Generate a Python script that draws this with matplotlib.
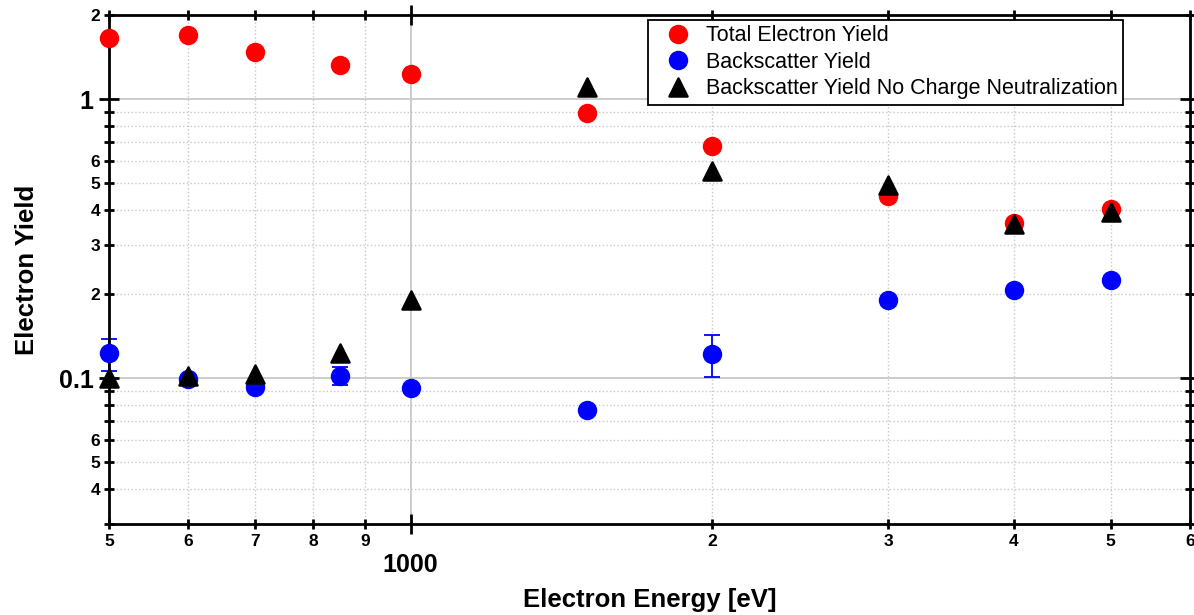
import matplotlib
matplotlib.use("Agg")
import matplotlib.pyplot as plt
from matplotlib.ticker import FixedLocator, FixedFormatter
from matplotlib.markers import MarkerStyle

plt.rcParams['font.family'] = ['Liberation Sans', 'DejaVu Sans']

energy = [500, 600, 700, 850, 1000, 1500, 2000, 3000, 4000, 5000]
total_yield = [1.66, 1.69, 1.47, 1.32, 1.23, 0.89, 0.68, 0.45, 0.36, 0.405]
bse_yield = [0.123, 0.0995, 0.093, 0.1017, 0.092, 0.077, 0.122, 0.19, 0.206, 0.224]
bse_err_lo = [0.017, 0.0, 0.0, 0.0073, 0.0, 0.0, 0.0214, 0.0, 0.0, 0.0]
bse_err_hi = [0.015, 0.0, 0.0, 0.0083, 0.0, 0.0, 0.021, 0.0, 0.0, 0.0]
bse_nocn = [0.1, 0.1017, 0.103, 0.123, 0.191, 1.10, 0.553, 0.493, 0.358, 0.395]

x_major = [1000]
x_major_labels = ['1000']
x_minor = [500, 600, 700, 800, 900, 2000, 3000, 4000, 5000, 6000]
x_minor_labels = ['5', '6', '7', '8', '9', '2', '3', '4', '5', '6']
y_major = [0.1, 1]
y_major_labels = ['0.1', '1']
y_minor = [0.03, 0.04, 0.05, 0.06, 0.07, 0.08, 0.09,
           0.2, 0.3, 0.4, 0.5, 0.6, 0.7, 0.8, 0.9, 2]
y_minor_labels = ['', '4', '5', '6', '', '', '',
                  '2', '3', '4', '5', '6', '', '', '', '2']

fig = plt.figure(figsize=(11.94, 6.15), dpi=100)
ax = fig.add_axes([0.0913, 0.148, 0.9053, 0.8276])
ax.set_xscale('log')
ax.set_yscale('log')
ax.set_xlim(500, 6000)
ax.set_ylim(0.03, 2)

h1, = ax.plot(energy, total_yield, 'o', color='#ff0000', markersize=14,
              markeredgewidth=0, label='Total Electron Yield', zorder=3,
              clip_on=False)
ax.errorbar(energy, bse_yield, yerr=[bse_err_lo, bse_err_hi], fmt='none',
            ecolor='#0000ff', elinewidth=1.3, capsize=6, capthick=1.3,
            zorder=2.5, clip_on=False)
h2, = ax.plot(energy, bse_yield, 'o', color='#0000ff', markersize=14,
              markeredgewidth=0, label='Backscatter Yield', zorder=3,
              clip_on=False)
tri = MarkerStyle('^', joinstyle='round')
h3, = ax.plot(energy, bse_nocn, linestyle='none', marker=tri, color='black',
              markersize=13.5, markeredgewidth=1.8, markeredgecolor='black',
              label='Backscatter Yield No Charge Neutralization', zorder=4,
              clip_on=False)

ax.xaxis.set_major_locator(FixedLocator(x_major))
ax.xaxis.set_major_formatter(FixedFormatter(x_major_labels))
ax.xaxis.set_minor_locator(FixedLocator(x_minor))
ax.xaxis.set_minor_formatter(FixedFormatter(x_minor_labels))
ax.yaxis.set_major_locator(FixedLocator(y_major))
ax.yaxis.set_major_formatter(FixedFormatter(y_major_labels))
ax.yaxis.set_minor_locator(FixedLocator(y_minor))
ax.yaxis.set_minor_formatter(FixedFormatter(y_minor_labels))

ax.tick_params(which='both', direction='inout', top=True, right=True,
               labeltop=False, labelright=False, width=2, color='black')
ax.tick_params(which='major', length=14, labelsize=18)
ax.tick_params(which='minor', length=7, labelsize=12.5)
ax.tick_params(axis='x', which='major', pad=14)
ax.tick_params(axis='x', which='minor', pad=4)
ax.tick_params(axis='y', which='minor', pad=3)
ax.tick_params(axis='y', which='major', pad=4)
for lab in ax.get_xticklabels(which='both') + ax.get_yticklabels(which='both'):
    lab.set_fontweight('bold')

ax.grid(which='major', color='#c8c8c8', linestyle='-', linewidth=1.3)
ax.grid(which='minor', color='#c8c8c8', linestyle=':', linewidth=1.0)
ax.set_axisbelow(True)

for sp in ax.spines.values():
    sp.set_linewidth(2)
    sp.set_color('black')

ax.set_xlabel('Electron Energy [eV]', fontsize=18.5, fontweight='bold', labelpad=8)
ax.set_ylabel('Electron Yield', fontsize=18.5, fontweight='bold', labelpad=14)

leg = ax.legend(handles=[h1, h2, h3], loc='upper right',
                bbox_to_anchor=(0.938, 0.990), fontsize=15.5,
                frameon=True, fancybox=False, edgecolor='black', framealpha=1,
                handletextpad=0.15, borderpad=0.25, labelspacing=0.25,
                handlelength=2.3, borderaxespad=0)
leg.get_frame().set_linewidth(1.3)

fig.savefig('out.png', dpi=100)
